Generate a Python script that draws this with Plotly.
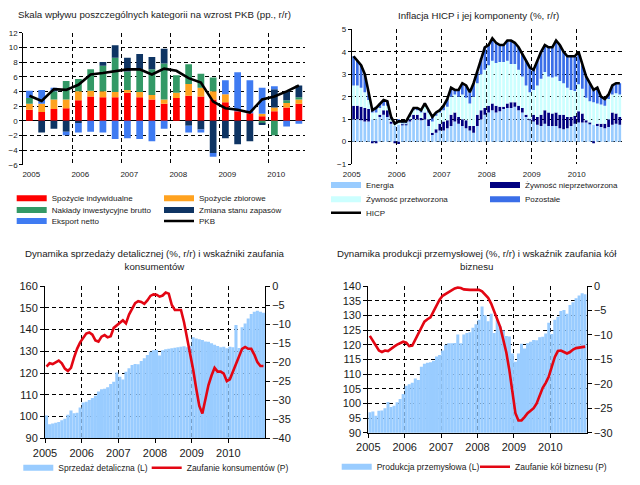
import plotly.graph_objects as go

W, H = 640, 485
FONT = "Liberation Sans, Arial, sans-serif"
TXT = "#1a1a1a"

# ---------------- data ----------------
years = ["2005", "2006", "2007", "2008", "2009", "2010"]
quarters = ["2005Q1", "2005Q2", "2005Q3", "2005Q4", "2006Q1", "2006Q2", "2006Q3", "2006Q4",
            "2007Q1", "2007Q2", "2007Q3", "2007Q4", "2008Q1", "2008Q2", "2008Q3", "2008Q4",
            "2009Q1", "2009Q2", "2009Q3", "2009Q4", "2010Q1", "2010Q2", "2010Q3"]
months = [f"{y}-{m:02d}" for y in years for m in range(1, 13)]

# Panel 1 - GDP contributions (pp.)
spozycie_ind = [1.5, 1.2, 1.6, 1.7, 2.8, 3.3, 3.2, 3.2, 3.8, 3.2, 2.9, 2.3,
                3.1, 3.4, 3.3, 2.9, 2.5, 1.3, 1.0, 0.6, 1.3, 1.8, 2.3]
spozycie_zb = [0.8, 1.1, 1.3, 1.2, 1.2, 0.8, 0.8, 0.7, 0.4, 0.7, 0.6, 0.6,
               0.7, 1.6, 1.2, 1.1, 1.1, 0.0, 0.0, 0.35, 0.5, 0.6, 0.6]
naklady = [0.8, 0.0, 1.1, 2.5, 1.7, 2.9, 3.5, 4.7, 2.5, 3.1, 3.5, 4.9,
           2.4, 2.7, 1.9, 1.9, 0.0, 0.0, 0.0, -0.4, -2.0, 0.4, 0.3]
zapasy = [0.0, -1.6, -1.1, -1.5, -0.3, 0.0, 0.5, 1.7, 1.9, 2.1, 1.7, 2.0,
          0.0, -0.7, -1.2, -4.4, -2.4, -3.2, -2.8, -0.2, 2.5, 1.2, 1.6]
eksport = [1.0, 1.9, 0.5, -0.5, -1.3, -1.5, -1.6, -2.5, -2.4, -2.5, -2.8, -1.1,
           0.0, -0.9, -0.4, -0.5, 1.9, 5.3, 4.5, 3.55, 0.4, -0.8, -0.4]
pkb = [3.4, 2.7, 4.3, 4.2, 4.9, 6.3, 6.5, 6.8, 7.0, 7.0, 6.3, 7.1,
       6.8, 5.8, 5.2, 2.6, 1.7, 1.5, 1.1, 2.9, 3.3, 4.0, 4.8]

# Panel 2 - HICP components (pp.)
energia = [1.0, 1.0, 0.95, 0.9, 0.9, 1.0, 1.0, 1.1, 1.2, 1.1, 0.8, 0.7,
           0.75, 0.75, 0.75, 0.9, 1.0, 1.0, 0.95, 1.0, 0.7, 0.3, 0.4, 0.5,
           0.5, 0.6, 0.7, 0.9, 0.8, 0.7, 0.6, 0.5, 0.4, 0.7, 1.0, 1.2,
           1.3, 1.4, 1.3, 1.35, 1.45, 1.5, 1.5, 1.55, 1.4, 1.3, 1.1, 0.95,
           0.9, 0.75, 0.7, 0.8, 0.7, 0.7, 0.7, 0.6, 0.55, 0.6, 0.7, 0.8,
           0.85, 0.85, 0.85, 0.8, 0.75, 0.7, 0.65, 0.6, 0.65, 0.75, 0.8, 0.75]
zyw_nieprz = [0.6, 0.6, 0.6, 0.6, 0.55, -0.05, -0.05, 0.1, 0.2, 0.3, 0.1, -0.05,
              -0.1, 0.05, 0.05, 0.1, 0.2, 0.2, 0.1, 0.3, 0.3, 0.1, 0.15, 0.3,
              0.4, 0.35, 0.5, 0.4, 0.3, 0.3, 0.35, 0.2, 0.3, 0.5, 0.4, 0.3,
              0.3, 0.3, 0.3, 0.2, 0.1, 0.2, 0.25, 0.2, 0.2, 0.2, 0.1, 0.05,
              0.3, 0.35, 0.5, 0.6, 0.6, 0.55, 0.6, 0.6, 0.65, 0.5, 0.4, 0.35,
              0.5, 0.4, 0.1, 0.05, -0.05, 0.1, 0.15, 0.2, 0.35, 0.55, 0.45, 0.35]
zyw_przetw = [0.9, 0.9, 0.85, 0.7, 0.4, 0.3, 0.3, 0.3, 0.2, 0.2, 0.1, 0.1,
              0.1, 0.05, 0.05, 0.1, 0.2, 0.2, 0.25, 0.3, 0.3, 0.5, 0.6, 0.5,
              0.5, 0.6, 0.8, 0.8, 0.9, 1.1, 1.0, 1.0, 1.3, 1.4, 1.6, 1.7,
              1.8, 1.9, 1.9, 2.0, 2.0, 1.9, 1.7, 1.7, 1.6, 1.4, 1.3, 1.2,
              1.1, 1.4, 1.6, 1.7, 1.6, 1.6, 1.6, 1.5, 1.4, 1.3, 1.2, 1.1,
              1.2, 1.1, 1.0, 0.95, 1.0, 0.9, 0.85, 0.8, 0.9, 0.8, 0.9, 1.0]
pozostale = [1.3, 1.1, 1.0, 0.8, 0.35, 0.15, 0.25, 0.2, 0.25, 0.2, 0.1, 0.05,
             0.15, 0.05, 0.05, 0.1, 0.1, 0.1, 0.1, 0.1, 0.1, 0.2, 0.15, 0.1,
             0.2, 0.35, 0.4, 0.2, 0.3, 0.5, 0.55, 0.5, 0.6, 0.5, 0.7, 1.0,
             0.9, 1.0, 0.9, 0.75, 0.75, 0.9, 1.05, 0.95, 1.0, 1.0, 1.1, 1.1,
             0.9, 1.1, 1.2, 1.2, 1.3, 1.35, 1.6, 1.6, 1.4, 1.4, 1.5, 1.55,
             1.45, 1.05, 0.95, 0.8, 0.6, 0.7, 0.35, 0.3, 0.2, 0.4, 0.45, 0.5]
hicp = [3.8, 3.6, 3.4, 3.0, 2.2, 1.4, 1.5, 1.7, 1.85, 1.8, 1.1, 0.8,
        0.9, 0.9, 0.9, 1.2, 1.5, 1.5, 1.4, 1.7, 1.4, 1.1, 1.3, 1.4,
        1.6, 1.9, 2.4, 2.3, 2.3, 2.6, 2.5, 2.2, 2.6, 3.1, 3.7, 4.2,
        4.3, 4.6, 4.4, 4.3, 4.3, 4.5, 4.5, 4.4, 4.2, 3.9, 3.6, 3.3,
        3.2, 3.6, 4.0, 4.3, 4.2, 4.2, 4.5, 4.3, 4.0, 3.8, 3.8, 3.8,
        4.0, 3.4, 2.9, 2.6, 2.3, 2.4, 2.0, 1.9, 2.1, 2.5, 2.6, 2.6]

# Panel 3 - retail sales (L) and consumer confidence (P)
sprzedaz = [100.5, 96.5, 96.8, 97.2, 97.5, 98.3, 99.0, 100.8, 102.8, 101.5, 101.8, 104.2,
            106.5, 106.8, 107.6, 108.5, 109.5, 111.5, 112.5, 112.8, 113.5, 115.0, 116.0, 120.2,
            118.3, 117.0, 120.6, 122.2, 123.7, 124.2, 124.0, 125.5, 126.8, 128.3, 129.8, 130.5,
            130.6, 128.0, 130.5, 130.9, 131.2, 131.4, 131.6, 131.8, 132.1, 132.3, 131.9, 132.4,
            136.5, 135.9, 135.5, 135.2, 134.5, 134.4, 133.7, 133.0, 132.4, 131.8, 132.1, 131.4,
            132.1, 131.8, 142.1, 131.5, 141.0, 142.8, 145.1, 147.1, 148.2, 148.6, 148.2, 147.7]
zauf_konsum = [-21.2, -20.3, -20.5, -20.0, -19.6, -20.3, -21.7, -22.3, -21.5, -18.8, -16.5, -14.8,
               -13.5, -12.5, -12.2, -12.8, -14.3, -14.6, -13.3, -12.9, -13.5, -13.2, -11.0, -10.3,
               -9.8, -9.0, -9.8, -7.5, -6.0, -4.5, -4.0, -4.2, -4.7, -3.8, -2.6, -2.2,
               -2.3, -2.8, -2.5, -1.7, -2.0, -5.0, -6.3, -6.3, -6.3, -9.5, -13.5, -17.5,
               -22.0, -27.0, -31.5, -33.5, -30.0, -26.0, -23.5, -21.5, -22.5, -22.5, -23.0, -25.0,
               -24.5, -22.5, -20.0, -18.0, -16.5, -16.0, -16.5, -16.5, -18.0, -20.0, -21.0, -21.0]

# Panel 4 - industrial production (L) and business confidence (P)
produkcja = [97.0, 97.2, 95.8, 97.5, 97.6, 98.3, 100.5, 98.8, 99.2, 100.4, 101.5, 103.2,
             106.0, 106.5, 107.0, 108.5, 108.0, 112.5, 113.5, 113.8, 114.0, 114.5, 116.0, 116.5,
             118.0, 120.0, 120.5, 120.5, 120.6, 123.5, 120.5, 123.5, 124.0, 124.2, 125.8, 127.0,
             128.5, 133.0, 130.0, 128.0, 130.5, 124.0, 128.5, 126.2, 124.8, 123.0, 122.8, 117.0,
             114.2, 117.0, 120.3, 118.7, 120.5, 121.0, 121.6, 121.5, 122.5, 122.7, 123.8, 127.5,
             123.6, 128.5, 129.5, 131.5, 131.8, 130.5, 133.5, 134.5, 135.8, 136.8, 137.5, 137.2]
zauf_biznes = [-10.2, -11.2, -12.4, -13.2, -13.5, -13.2, -13.3, -12.8, -12.4, -12.0, -11.7, -11.4,
               -11.6, -12.3, -12.2, -11.0, -9.6, -8.3, -7.3, -6.8, -6.4, -5.2, -4.0, -2.8,
               -2.0, -1.6, -1.3, -0.8, -0.5, -0.3, -0.4, -0.7, -0.8, -0.8, -0.8, -0.8,
               -0.8, -1.1, -1.8, -2.4, -3.6, -5.1, -6.7, -8.4, -11.0, -13.6, -17.2, -22.0,
               -26.0, -27.5, -27.5, -26.8, -26.0, -25.5, -25.0, -24.0, -22.3, -20.8, -19.8, -18.5,
               -16.5, -14.5, -13.3, -13.2, -13.5, -13.8, -13.5, -13.0, -12.7, -12.6, -12.5, -12.4]

# ---------------- colours ----------------
C_RED, C_ORA, C_GRN, C_NAV, C_BLU = "#FF0000", "#FFA21F", "#339966", "#0E3463", "#3F7BF2"
C_ENE, C_UNP, C_PRO, C_OTH = "#99CCFF", "#000080", "#CCFFFF", "#3A6EE8"
C_BAR, C_LINE = "#99CCFF", "#E30613"

qx = list(range(len(quarters)))
mx = list(range(len(months)))
year_edges_q = [4 * i - 0.5 for i in range(len(years))]
year_edges_m = [12 * i - 0.5 for i in range(len(years))]

fig = go.Figure()


def add_bar(x, y, name, color, xa, ya, legend, width, hover):
    fig.add_trace(go.Bar(x=x, y=y, name=name, marker=dict(color=color, line=dict(width=0)),
                         width=width, xaxis=xa, yaxis=ya, showlegend=False, legendgroup=name,
                         customdata=hover, hovertemplate="%{customdata}: %{y}<extra>" + name + "</extra>"))
    # legend swatch (wide flat rectangle like the original)
    fig.add_trace(go.Scatter(x=[None], y=[None], mode="lines", name=name, legendgroup=name,
                             line=dict(color=color, width=6), xaxis=xa, yaxis=ya, legend=legend,
                             hoverinfo="skip"))


def add_line(x, y, name, color, xa, ya, legend, hover):
    fig.add_trace(go.Scatter(x=x, y=y, name=name, mode="lines", line=dict(color=color, width=2.6),
                             xaxis=xa, yaxis=ya, legend=legend, customdata=hover,
                             hovertemplate="%{customdata}: %{y}<extra>" + name + "</extra>"))


# Panel 1
add_bar(qx, spozycie_ind, "Spożycie indywidualne", C_RED, "x", "y", "legend", 0.55, quarters)
add_bar(qx, spozycie_zb, "Spożycie zbiorowe", C_ORA, "x", "y", "legend2", 0.55, quarters)
add_bar(qx, naklady, "Nakłady inwestycyjne brutto", C_GRN, "x", "y", "legend3", 0.55, quarters)
add_bar(qx, zapasy, "Zmiana stanu zapasów", C_NAV, "x", "y", "legend4", 0.55, quarters)
add_bar(qx, eksport, "Eksport netto", C_BLU, "x", "y", "legend5", 0.55, quarters)
add_line(qx, pkb, "PKB", "#000000", "x", "y", "legend6", quarters)

# Panel 2
add_bar(mx, energia, "Energia", C_ENE, "x2", "y2", "legend7", 0.72, months)
add_bar(mx, zyw_nieprz, "Żywność nieprzetworzona", C_UNP, "x2", "y2", "legend8", 0.72, months)
add_bar(mx, zyw_przetw, "Żywność przetworzona", C_PRO, "x2", "y2", "legend9", 0.72, months)
add_bar(mx, pozostale, "Pozostałe", C_OTH, "x2", "y2", "legend10", 0.72, months)
add_line(mx, hicp, "HICP", "#000000", "x2", "y2", "legend11", months)

# Panel 3
add_bar(mx, sprzedaz, "Sprzedaż detaliczna (L)", C_BAR, "x3", "y3", "legend12", 1.0, months)
add_line(mx, zauf_konsum, "Zaufanie konsumentów (P)", C_LINE, "x3", "y4", "legend13", months)

# Panel 4
add_bar(mx, produkcja, "Produkcja przemysłowa (L)", C_BAR, "x4", "y5", "legend14", 1.0, months)
add_line(mx, zauf_biznes, "Zaufanie kół biznesu (P)", C_LINE, "x4", "y6", "legend15", months)


def dom_x(a, b):
    return [a / W, b / W]


def dom_y(top, bottom):
    return [1 - bottom / H, 1 - top / H]


GRID = dict(showgrid=True, gridcolor="#000000", gridwidth=1, griddash="4px,3px", automargin=False)

layout = dict(
    width=W, height=H, margin=dict(l=0, r=0, t=0, b=0, pad=0, autoexpand=False),
    paper_bgcolor="white", plot_bgcolor="white",
    barmode="relative", hovermode="closest",
    font=dict(family=FONT, color=TXT, size=9),
    # panel 1
    xaxis=dict(domain=dom_x(23.3, 305), anchor="y", range=[-0.5, len(quarters) - 0.5],
               tickmode="array", tickvals=year_edges_q, ticktext=years, ticks="",
               ticklabelshift=8, ticklabelstandoff=3, tickfont=dict(size=8),
               zeroline=False, showline=False, **GRID),
    yaxis=dict(domain=dom_y(32.7, 164.7), anchor="x", range=[-6, 12], dtick=2,
               tickfont=dict(size=8), ticks="outside", ticklen=3, tickcolor="#000",
               showline=True, linecolor="#000", linewidth=1,
               zeroline=True, zerolinecolor="#000", zerolinewidth=1, **GRID),
    # panel 2
    xaxis2=dict(domain=dom_x(351.7, 621.7), anchor="y2", range=[-0.5, len(months) - 0.5],
                tickmode="array", tickvals=year_edges_m, ticktext=years, ticks="",
                ticklabelstandoff=4, tickfont=dict(size=8), zeroline=False, showline=False, **GRID),
    yaxis2=dict(domain=dom_y(29.3, 164.1), anchor="x2", range=[-1, 5], dtick=1,
                tickfont=dict(size=8), ticks="outside", ticklen=3, tickcolor="#000",
                showline=True, linecolor="#000", linewidth=1, zeroline=False, **GRID),
    # panel 3
    xaxis3=dict(domain=dom_x(45, 265), anchor="y3", range=[-0.5, len(months) - 0.5],
                tickmode="array", tickvals=year_edges_m, ticktext=years, ticks="outside",
                ticklen=4, tickcolor="#000", tickfont=dict(size=11), zeroline=False,
                showline=True, linecolor="#000", linewidth=1, **GRID),
    yaxis3=dict(domain=dom_y(286, 438.3), anchor="x3", range=[90, 160], dtick=10,
                tickfont=dict(size=11), ticks="outside", ticklen=4, tickcolor="#000",
                showline=True, linecolor="#000", linewidth=1, zeroline=False, **GRID),
    yaxis4=dict(overlaying="y3", anchor="x3", side="right", range=[-40, 0], dtick=5,
                tickfont=dict(size=11), ticks="outside", ticklen=4, tickcolor="#000",
                showline=True, linecolor="#000", linewidth=1, showgrid=False, zeroline=False,
                automargin=False),
    # panel 4
    xaxis4=dict(domain=dom_x(368.3, 586.7), anchor="y5", range=[-0.5, len(months) - 0.5],
                tickmode="array", tickvals=year_edges_m, ticktext=years, ticks="outside",
                ticklen=4, tickcolor="#000", tickfont=dict(size=11), zeroline=False,
                showline=True, linecolor="#000", linewidth=1, **GRID),
    yaxis5=dict(domain=dom_y(286, 432.7), anchor="x4", range=[90, 140], dtick=5,
                tickfont=dict(size=11), ticks="outside", ticklen=4, tickcolor="#000",
                showline=True, linecolor="#000", linewidth=1, zeroline=False, **GRID),
    yaxis6=dict(overlaying="y5", anchor="x4", side="right", range=[-30, 0], dtick=5,
                tickfont=dict(size=11), ticks="outside", ticklen=4, tickcolor="#000",
                showline=True, linecolor="#000", linewidth=1, showgrid=False, zeroline=False,
                automargin=False),
)

# legends: (text start x px, centre y px, font size)
legend_pos = {
    "legend": (51.7, 198.3, 8), "legend2": (199, 198.3, 8),
    "legend3": (51.7, 210, 8), "legend4": (199, 210, 8),
    "legend5": (51.7, 221, 8), "legend6": (199, 221, 8),
    "legend7": (366, 185, 8), "legend8": (525, 185, 8),
    "legend9": (366, 199.3, 8), "legend10": (525, 199.3, 8),
    "legend11": (366, 212.7, 8),
    "legend12": (58.3, 467.7, 8.5), "legend13": (186.7, 467.7, 8.5),
    "legend14": (376.7, 466.7, 8.5), "legend15": (515, 466.7, 8.5),
}
for name, (tx, ty, fs) in legend_pos.items():
    layout[name] = dict(x=(tx - 40) / W, y=1 - ty / H, xanchor="left", yanchor="middle",
                        orientation="h", bgcolor="rgba(0,0,0,0)", borderwidth=0,
                        font=dict(size=fs, family=FONT, color=TXT), itemwidth=30)

fig.update_layout(**layout)

titles = [
    ("Skala wpływu poszczególnych kategorii na wzrost PKB (pp., r/r)", 154, 14),
    ("Inflacja HICP i jej komponenty (%, r/r)", 478.5, 15),
    ("Dynamika sprzedaży detalicznej (%, r/r) i wskaźniki zaufania<br>konsumentów", 154.5, 259.5),
    ("Dynamika produkcji przemysłowej (%, r/r) i wskaźnik zaufania kół<br>biznesu", 477, 259.5),
]
for text, cx, cy in titles:
    fig.add_annotation(text=text, x=cx / W, y=1 - cy / H, xref="paper", yref="paper",
                       xanchor="center", yanchor="middle", showarrow=False,
                       font=dict(size=9.7, family=FONT, color=TXT))

fig.write_html("out.html", config={"displayModeBar": False},
               post_script="document.body.style.margin='0px';")
